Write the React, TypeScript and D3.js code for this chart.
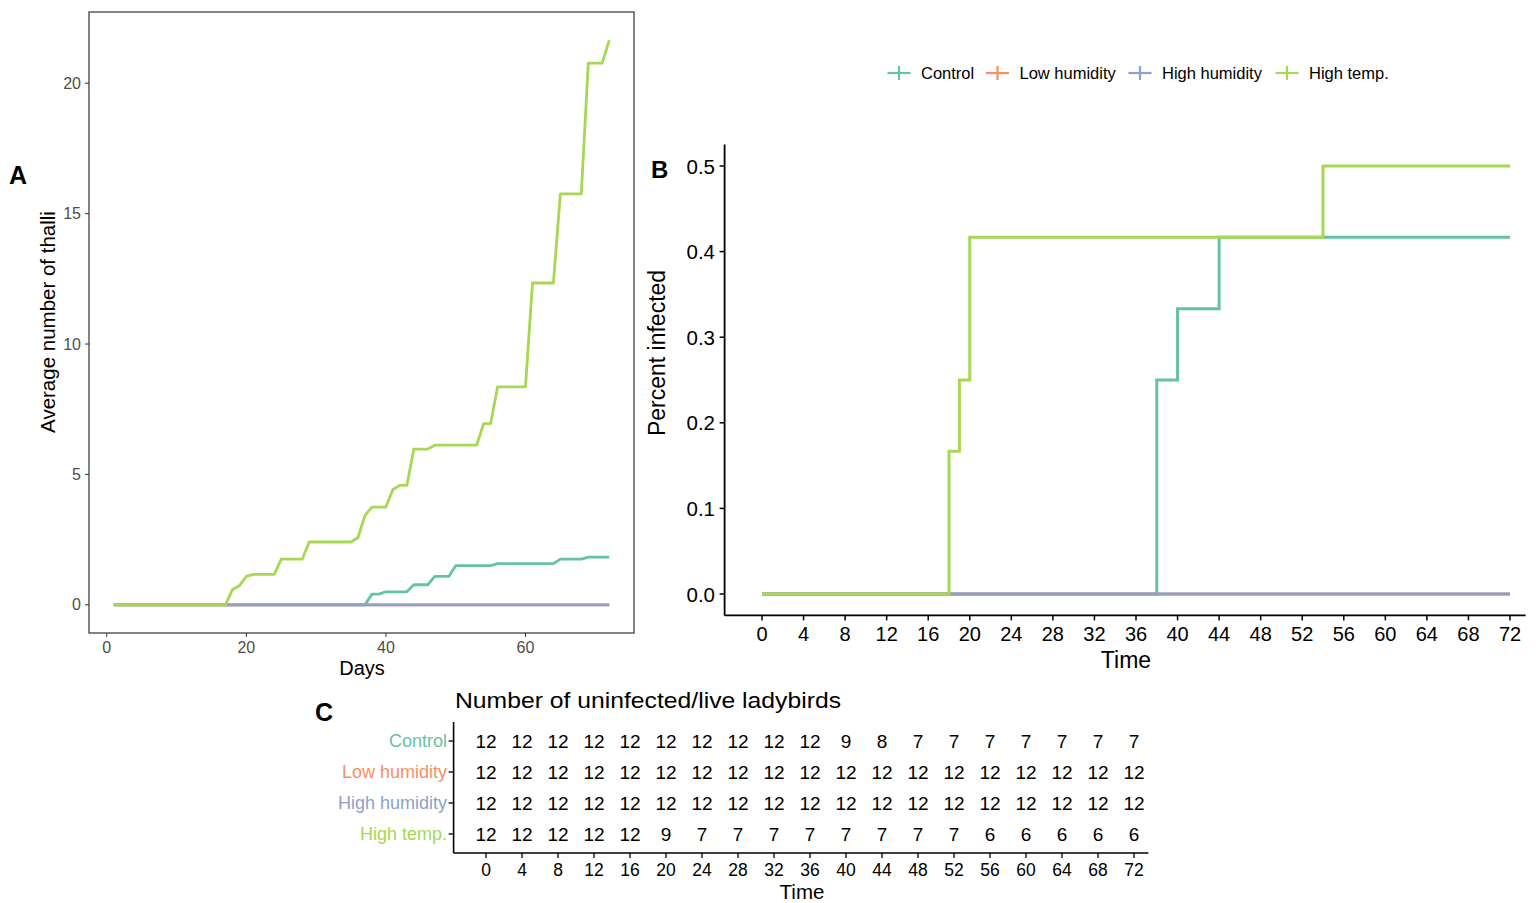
import React from "react";
import * as d3 from "d3";

// ---------- data ----------
const groups = ["Control", "Low humidity", "High humidity", "High temp."];
const groupColors = ["#66C2A5", "#FC8D62", "#8DA0CB", "#A6D854"];

// Panel A: average number of thalli by day ([day, value])
const controlThalli: [number, number][] = [
  [1, 0], [37, 0], [38, 0.41], [39, 0.41], [40, 0.5], [43, 0.5], [44, 0.77], [46, 0.77],
  [47, 1.09], [49, 1.09], [50, 1.5], [55, 1.5], [56, 1.58], [64, 1.58], [65, 1.75],
  [68, 1.75], [69, 1.83], [72, 1.83],
];
const lowHumidityThalli: [number, number][] = [[1, 0], [72, 0]];
const highHumidityThalli: [number, number][] = [[1, 0], [72, 0]];
const highTempThalli: [number, number][] = [
  [1, 0], [17, 0], [18, 0.58], [19, 0.74], [20, 1.09], [21, 1.17], [24, 1.17], [25, 1.75],
  [28, 1.75], [29, 2.41], [35, 2.41], [36, 2.58], [37, 3.43], [38, 3.75], [40, 3.75],
  [41, 4.42], [42, 4.58], [43, 4.58], [44, 5.97], [46, 5.97], [47, 6.12], [53, 6.12],
  [54, 6.95], [55, 6.95], [56, 8.36], [60, 8.36], [61, 12.34], [64, 12.34], [65, 15.76],
  [68, 15.76], [69, 20.77], [71, 20.77], [72, 21.65],
];
const thalliSeries = [controlThalli, lowHumidityThalli, highHumidityThalli, highTempThalli];
const aXTicks = [0, 20, 40, 60];
const aYTicks = [0, 5, 10, 15, 20];

// Panel B: proportion infected (step after, [time, value])
const controlInfected: [number, number][] = [[0, 0], [38, 0.25], [40, 0.3333], [44, 0.4167], [72, 0.4167]];
const lowHumidityInfected: [number, number][] = [[0, 0], [72, 0]];
const highHumidityInfected: [number, number][] = [[0, 0], [72, 0]];
const highTempInfected: [number, number][] = [[0, 0], [18, 0.1667], [19, 0.25], [20, 0.4167], [54, 0.5], [72, 0.5]];
const infectedSeries = [controlInfected, lowHumidityInfected, highHumidityInfected, highTempInfected];
const bYTicks = [0, 0.1, 0.2, 0.3, 0.4, 0.5];
const timeTicks = [0, 4, 8, 12, 16, 20, 24, 28, 32, 36, 40, 44, 48, 52, 56, 60, 64, 68, 72];

// Panel C: number at risk
const controlAtRisk = [12, 12, 12, 12, 12, 12, 12, 12, 12, 12, 9, 8, 7, 7, 7, 7, 7, 7, 7];
const lowHumidityAtRisk = [12, 12, 12, 12, 12, 12, 12, 12, 12, 12, 12, 12, 12, 12, 12, 12, 12, 12, 12];
const highHumidityAtRisk = [12, 12, 12, 12, 12, 12, 12, 12, 12, 12, 12, 12, 12, 12, 12, 12, 12, 12, 12];
const highTempAtRisk = [12, 12, 12, 12, 12, 9, 7, 7, 7, 7, 7, 7, 7, 7, 6, 6, 6, 6, 6];
const atRisk = [controlAtRisk, lowHumidityAtRisk, highHumidityAtRisk, highTempAtRisk];

const FONT = "'Liberation Sans', Arial, Helvetica, sans-serif";

export default function App() {
  // ---------- Panel A scales ----------
  const xA = d3.scaleLinear().domain([-2.55, 75.55]).range([89, 634]);
  const yA = d3.scaleLinear().domain([-1.08, 22.73]).range([633, 12]);
  const lineA = d3.line<[number, number]>().x((d) => xA(d[0])).y((d) => yA(d[1]));

  // ---------- Panel B scales ----------
  const xB = d3.scaleLinear().domain([0, 72]).range([762, 1510]);
  const yB = d3.scaleLinear().domain([0, 0.5]).range([594, 166]);
  const lineB = d3
    .line<[number, number]>()
    .x((d) => xB(d[0]))
    .y((d) => yB(d[1]))
    .curve(d3.curveStepAfter);

  // ---------- Panel C scales ----------
  const xC = d3.scaleLinear().domain([0, 72]).range([486, 1134]);
  const yC = d3.scalePoint<string>().domain(groups).range([741, 834]);

  const gray20 = "#333333";
  const gray30 = "#4D4D4D";

  return (
    <svg
      width={1538}
      height={903}
      style={{ position: "absolute", left: 0, top: 0, background: "#fff" }}
      fontFamily={FONT}
    >
      {/* ===== Panel A ===== */}
      <text x={9} y={184} fontSize={25} fontWeight="bold">A</text>
      <rect x={89} y={12} width={545} height={621} fill="none" stroke={gray20} strokeWidth={1.2} />
      {aXTicks.map((t) => (
        <g key={"ax" + t}>
          <line x1={xA(t)} x2={xA(t)} y1={633} y2={637} stroke={gray20} />
          <text x={xA(t)} y={653} fontSize={16} fill={gray30} textAnchor="middle">{t}</text>
        </g>
      ))}
      {aYTicks.map((t) => (
        <g key={"ay" + t}>
          <line x1={85} x2={89} y1={yA(t)} y2={yA(t)} stroke={gray20} />
          <text x={81} y={yA(t)} fontSize={16} fill={gray30} textAnchor="end" dominantBaseline="central">{t}</text>
        </g>
      ))}
      <text x={362} y={675} fontSize={20} textAnchor="middle">Days</text>
      <text transform="translate(55,322) rotate(-90)" fontSize={20.5} textAnchor="middle">Average number of thalli</text>
      {thalliSeries.map((s, i) => (
        <path key={"la" + i} d={lineA(s) || ""} fill="none" stroke={groupColors[i]} strokeWidth={2.8} strokeLinejoin="round" />
      ))}

      {/* ===== Panel B ===== */}
      <text x={651} y={178} fontSize={24} fontWeight="bold">B</text>
      {/* legend */}
      {(() => {
        const keyX = [899, 997.5, 1140, 1287];
        return groups.map((g, i) => (
          <g key={"lg" + i}>
            <line x1={keyX[i] - 11.5} x2={keyX[i] + 11.5} y1={73} y2={73} stroke={groupColors[i]} strokeWidth={2.2} />
            <line x1={keyX[i]} x2={keyX[i]} y1={66} y2={80} stroke={groupColors[i]} strokeWidth={2.2} />
            <text x={keyX[i] + 22} y={73} fontSize={16.5} dominantBaseline="central">{g}</text>
          </g>
        ));
      })()}
      {infectedSeries.map((s, i) => (
        <path key={"lb" + i} d={lineB(s) || ""} fill="none" stroke={groupColors[i]} strokeWidth={3} />
      ))}
      <line x1={xB(-3.6)} x2={xB(73.5)} y1={yB(-0.025)} y2={yB(-0.025)} stroke="#000" strokeWidth={1.8} />
      <line x1={xB(-3.6)} x2={xB(-3.6)} y1={yB(-0.025)} y2={yB(0.525)} stroke="#000" strokeWidth={1.8} />
      {timeTicks.map((t) => (
        <g key={"bx" + t}>
          <line x1={xB(t)} x2={xB(t)} y1={yB(-0.025)} y2={yB(-0.025) + 5} stroke="#000" strokeWidth={1.5} />
          <text x={xB(t)} y={641} fontSize={20} textAnchor="middle">{t}</text>
        </g>
      ))}
      {bYTicks.map((t) => (
        <g key={"by" + t}>
          <line x1={xB(-3.6) - 5} x2={xB(-3.6)} y1={yB(t)} y2={yB(t)} stroke="#000" strokeWidth={1.5} />
          <text x={715} y={yB(t)} fontSize={20.5} textAnchor="end" dominantBaseline="central">{t.toFixed(1)}</text>
        </g>
      ))}
      <text x={1126} y={668} fontSize={23} textAnchor="middle">Time</text>
      <text transform="translate(665,353) rotate(-90)" fontSize={23} textAnchor="middle">Percent infected</text>

      {/* ===== Panel C ===== */}
      <text x={315} y={721} fontSize={25} fontWeight="bold">C</text>
      <text x={455} y={708} fontSize={22} textLength={386} lengthAdjust="spacingAndGlyphs">Number of uninfected/live ladybirds</text>
      <line x1={xC(-3.6)} x2={xC(-3.6)} y1={722} y2={853} stroke="#000" strokeWidth={1.6} />
      <line x1={xC(-3.6)} x2={xC(73.6)} y1={853} y2={853} stroke="#000" strokeWidth={1.6} />
      {groups.map((g, i) => (
        <g key={"cy" + i}>
          <line x1={xC(-3.6) - 5} x2={xC(-3.6)} y1={yC(g)!} y2={yC(g)!} stroke="#000" strokeWidth={1.3} />
          <text x={447} y={yC(g)!} fontSize={18} fill={groupColors[i]} textAnchor="end" dominantBaseline="central">{g}</text>
          {atRisk[i].map((v, j) => (
            <text key={j} x={xC(timeTicks[j])} y={yC(g)!} fontSize={19} textAnchor="middle" dominantBaseline="central">{v}</text>
          ))}
        </g>
      ))}
      {timeTicks.map((t) => (
        <g key={"cx" + t}>
          <line x1={xC(t)} x2={xC(t)} y1={853} y2={858} stroke="#000" strokeWidth={1.3} />
          <text x={xC(t)} y={876} fontSize={17.5} textAnchor="middle">{t}</text>
        </g>
      ))}
      <text x={802} y={899} fontSize={20.5} textAnchor="middle">Time</text>
    </svg>
  );
}
